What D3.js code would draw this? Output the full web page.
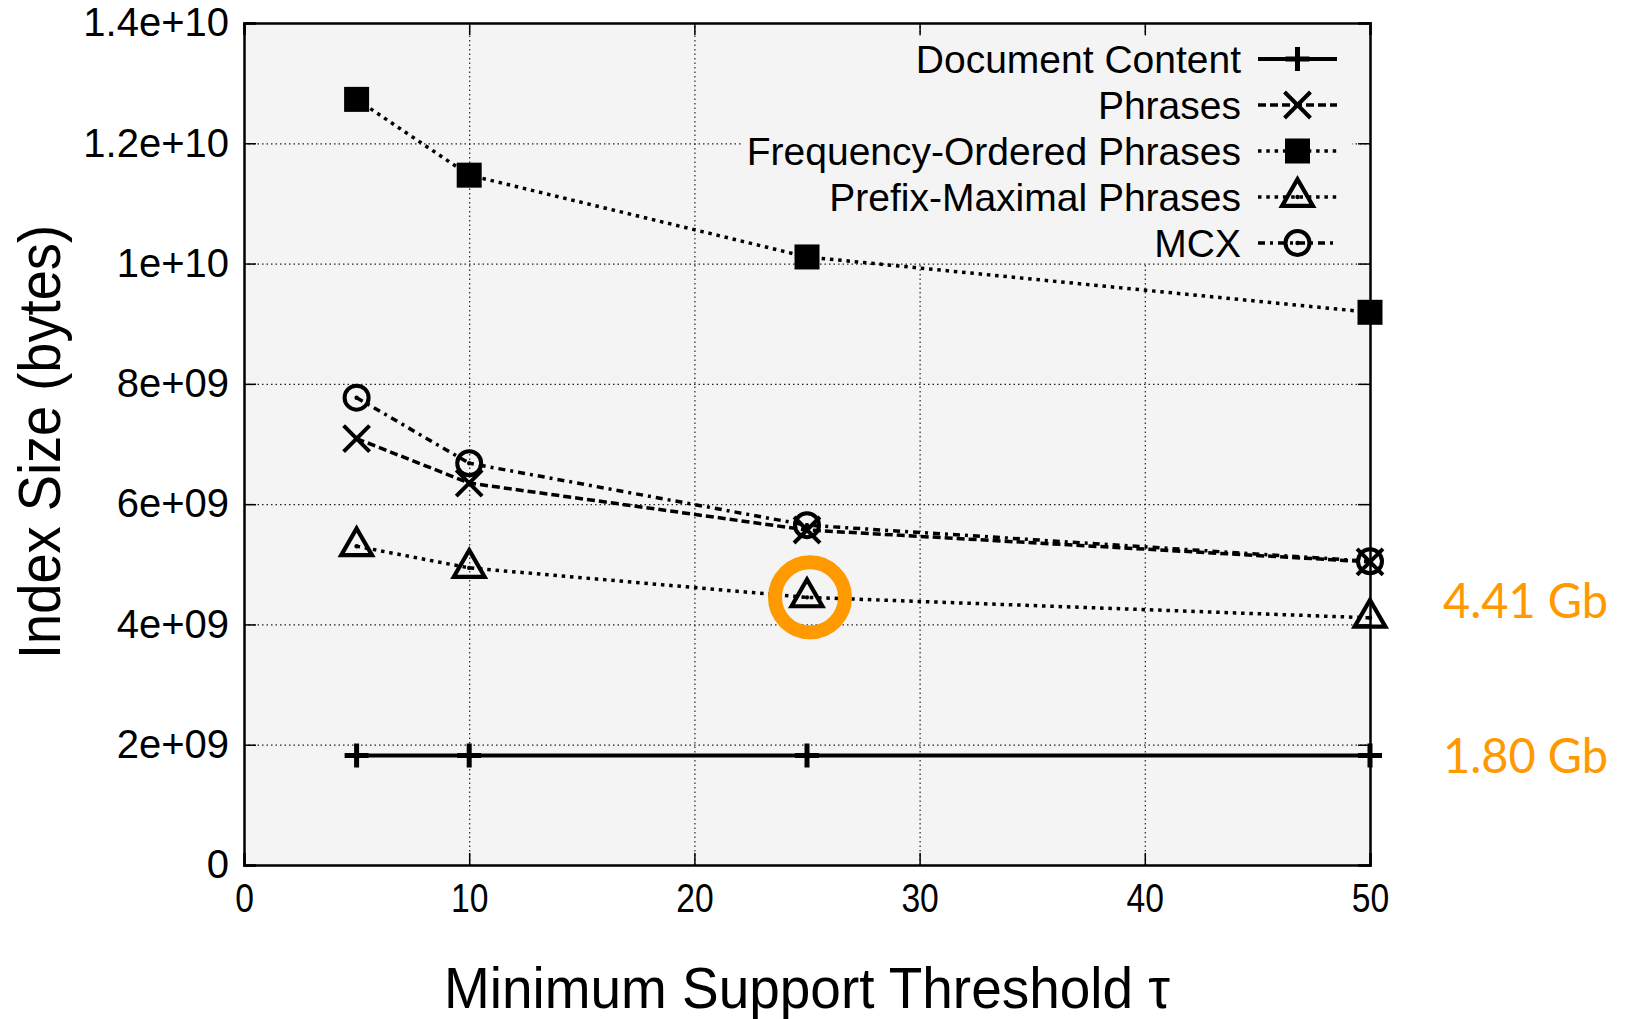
<html>

<head>
    <script src="https://d3js.org/d3.v7.min.js"></script>
    <style>
        body {
            margin: 0;
            background: #fff;
        }

        text {
            font-family: "Liberation Sans", Arial, sans-serif;
        }

        .gridlines line {
            stroke: #222;
            stroke-width: 1.2;
            stroke-dasharray: 1.5, 3;
        }

        .gridlines .domain {
            stroke: none;
        }
    </style>
</head>

<body>
    <svg id="chart" width="1626" height="1019"></svg>
    <script>
        // values
        const thresholds = [5, 10, 25, 50];
        const documentContent = [1.82e9, 1.82e9, 1.82e9, 1.82e9];
        const phrases = [7.09e9, 6.35e9, 5.57e9, 5.04e9];
        const freqOrdered = [1.273e10, 1.147e10, 1.011e10, 9.19e9];
        const prefixMaximal = [5.30e9, 4.94e9, 4.45e9, 4.11e9];
        const mcx = [7.77e9, 6.68e9, 5.65e9, 5.05e9];

        const xTicks = [0, 10, 20, 30, 40, 50];
        const yTicks = [0, 2e9, 4e9, 6e9, 8e9, 1e10, 1.2e10, 1.4e10];
        const yTickLabels = ["0", "2e+09", "4e+09", "6e+09", "8e+09", "1e+10", "1.2e+10", "1.4e+10"];

        const seriesNames = ["Document Content", "Phrases", "Frequency-Ordered Phrases", "Prefix-Maximal Phrases", "MCX"];
        const annotations = ["4.41 Gb", "1.80 Gb"];

        const series = [
            { name: seriesNames[0], values: documentContent, dash: null, symbol: d3.symbolPlus, size: 190, fill: false, sw: 5, lw: 4 },
            { name: seriesNames[1], values: phrases, dash: "8,4", symbol: d3.symbolTimes, size: 441, fill: false, sw: 4, lw: 3.5 },
            { name: seriesNames[2], values: freqOrdered, dash: "3.5,4.8", symbol: d3.symbolSquare, size: 625, fill: true, sw: 0, lw: 3.5 },
            { name: seriesNames[3], values: prefixMaximal, dash: "3.5,4.8", symbol: d3.symbolTriangle2, size: 680, fill: false, sw: 4.2, lw: 3.5, dot: true },
            { name: seriesNames[4], values: mcx, dash: "7,5,3,5", symbol: d3.symbolCircle, size: 452, fill: false, sw: 4, lw: 3.5, dot: true }
        ];

        const svg = d3.select("#chart");
        const margins = { "top": 23, "right": 256, "bottom": 154, "left": 244 };
        const width = +svg.attr("width");
        const height = +svg.attr("height");
        const chartWidth = width - margins.left - margins.right;
        const chartHeight = height - margins.top - margins.bottom;

        const xScale = d3.scaleLinear().domain([0, 50]).range([margins.left, margins.left + chartWidth]);
        const yScale = d3.scaleLinear().domain([0, 1.4e10]).range([margins.top + chartHeight, margins.top]);

        // plot background
        svg.append("rect")
            .attr("x", margins.left).attr("y", margins.top)
            .attr("width", chartWidth).attr("height", chartHeight)
            .attr("fill", "#f4f4f4");

        // gridlines
        svg.append("g")
            .attr("class", "gridlines")
            .attr("transform", "translate(0," + (margins.top + chartHeight) + ")")
            .call(d3.axisBottom(xScale).tickValues(xTicks.slice(1, -1)).tickSize(-chartHeight).tickFormat(""));
        svg.append("g")
            .attr("class", "gridlines")
            .attr("transform", "translate(" + margins.left + ",0)")
            .call(d3.axisLeft(yScale).tickValues(yTicks.slice(1, -1)).tickSize(-chartWidth).tickFormat(""));

        // opaque key box hides the grid behind the legend
        svg.append("rect")
            .attr("x", 742).attr("y", 36)
            .attr("width", 610).attr("height", 226)
            .attr("fill", "#f4f4f4");

        // axes, ticks pointing inwards on all four sides
        const tickLen = 12;
        const leftAxis = svg.append("g")
            .attr("transform", "translate(" + margins.left + ",0)")
            .call(d3.axisLeft(yScale).tickValues(yTicks).tickSize(-tickLen).tickPadding(15)
                .tickFormat((d, i) => yTickLabels[i]));
        const rightAxis = svg.append("g")
            .attr("transform", "translate(" + (margins.left + chartWidth) + ",0)")
            .call(d3.axisRight(yScale).tickValues(yTicks).tickSize(-tickLen).tickFormat(""));
        const bottomAxis = svg.append("g")
            .attr("transform", "translate(0," + (margins.top + chartHeight) + ")")
            .call(d3.axisBottom(xScale).tickValues(xTicks).tickSize(-tickLen).tickPadding(18)
                .tickFormat(d3.format("d")));
        const topAxis = svg.append("g")
            .attr("transform", "translate(0," + margins.top + ")")
            .call(d3.axisTop(xScale).tickValues(xTicks).tickSize(-tickLen).tickFormat(""));

        [leftAxis, rightAxis, bottomAxis, topAxis].forEach(ax => {
            ax.select(".domain").attr("stroke", "#000").attr("stroke-width", 2.5);
            ax.selectAll(".tick line").attr("stroke", "#000").attr("stroke-width", 1.5);
        });
        leftAxis.selectAll(".tick text")
            .attr("font-size", 40).attr("fill", "#000")
            .style("font-family", "'Liberation Sans', Arial, sans-serif");
        bottomAxis.selectAll(".tick text")
            .attr("font-size", 41).attr("fill", "#000")
            .style("font-family", "'Liberation Sans', Arial, sans-serif")
            .each(function () {
                // the x labels are set in a narrow face
                const w = this.getComputedTextLength();
                d3.select(this).attr("textLength", w * 0.82).attr("lengthAdjust", "spacingAndGlyphs");
            });

        // series lines and markers
        const line = d3.line()
            .x((d, i) => xScale(thresholds[i]))
            .y(d => yScale(d));

        series.forEach(s => {
            svg.append("path")
                .attr("d", line(s.values))
                .attr("fill", "none")
                .attr("stroke", "#000")
                .attr("stroke-width", s.lw)
                .attr("stroke-dasharray", s.dash);
        });

        function drawMarker(g, s, cx, cy) {
            g.append("path")
                .attr("d", d3.symbol().type(s.symbol).size(s.size)())
                .attr("transform", "translate(" + cx + "," + cy + ")")
                .attr("fill", s.fill ? "#000" : "none")
                .attr("stroke", s.fill ? "none" : "#000")
                .attr("stroke-width", s.sw);
            if (s.dot) {
                g.append("circle")
                    .attr("cx", cx).attr("cy", cy).attr("r", 2.2)
                    .attr("fill", "#000");
            }
        }

        series.forEach(s => {
            const g = svg.append("g");
            s.values.forEach((v, i) => drawMarker(g, s, xScale(thresholds[i]), yScale(v)));
        });

        // legend
        const legend = svg.append("g");
        const legendY0 = 59, legendStep = 46;
        series.forEach((s, i) => {
            const ly = legendY0 + i * legendStep;
            legend.append("text")
                .attr("x", 1241).attr("y", ly + 14)
                .attr("text-anchor", "end")
                .attr("font-size", 39)
                .attr("fill", "#000")
                .text(s.name);
            legend.append("line")
                .attr("x1", 1258).attr("x2", 1337)
                .attr("y1", ly).attr("y2", ly)
                .attr("stroke", "#000")
                .attr("stroke-width", s.lw)
                .attr("stroke-dasharray", s.dash);
            drawMarker(legend, s, 1297.5, ly);
        });

        // axis titles
        svg.append("text")
            .attr("transform", "translate(60," + 442 + ") rotate(-90)")
            .attr("text-anchor", "middle")
            .attr("font-size", 60)
            .attr("textLength", 434)
            .attr("lengthAdjust", "spacingAndGlyphs")
            .attr("fill", "#000")
            .text("Index Size (bytes)");

        svg.append("text")
            .attr("x", 807).attr("y", 1008)
            .attr("text-anchor", "middle")
            .attr("font-size", 57)
            .attr("textLength", 726)
            .attr("lengthAdjust", "spacingAndGlyphs")
            .attr("fill", "#000")
            .text("Minimum Support Threshold \u03c4");

        // orange highlight and side notes
        const orange = "#ff9900";
        svg.append("circle")
            .attr("cx", xScale(thresholds[2]) + 3)
            .attr("cy", yScale(prefixMaximal[2]))
            .attr("r", 35)
            .attr("fill", "none")
            .attr("stroke", orange)
            .attr("stroke-width", 14);

        annotations.forEach((t, i) => {
            svg.append("text")
                .attr("x", 1443)
                .attr("y", i === 0 ? 618 : 773)
                .attr("font-size", 48)
                .attr("textLength", 165)
                .attr("lengthAdjust", "spacingAndGlyphs")
                .attr("fill", orange)
                .style("font-family", "Lato, 'Open Sans', sans-serif")
                .text(t);
        });
    </script>
</body>

</html>
